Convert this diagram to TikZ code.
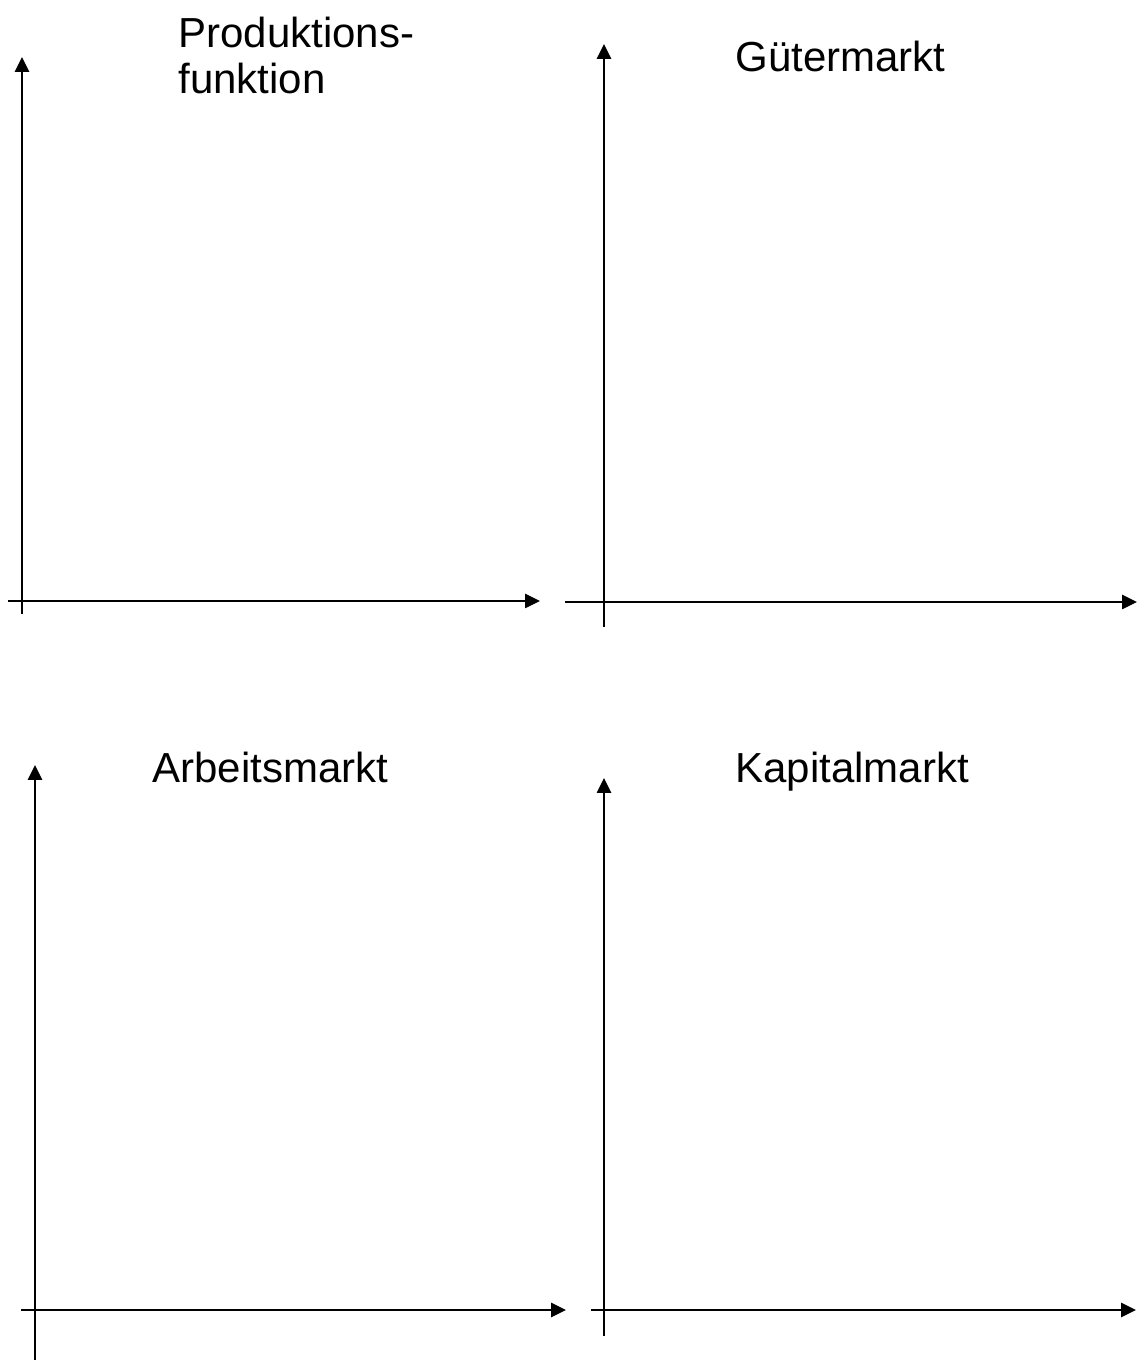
\documentclass[tikz,border=0pt]{standalone}
\usepackage{fontspec}
\setmainfont{Liberation Sans}
\usetikzlibrary{arrows.meta}

\begin{document}
\begin{tikzpicture}[x=0.5pt,y=0.5pt,>={Triangle[length=7.5pt,width=7pt]}]
\tikzset{
 t/.style={anchor=base west,inner sep=0pt,align=left,font=\fontsize{21}{23}\selectfont},
 ax/.style={->,line width=1.3pt}
}
\useasboundingbox (0,0) rectangle (1138,1360);
% titles
\node[t,anchor=west] (prod) at (178,1304) {Produktions-\\funktion};
\node[t] (gut) at (735,1288) {Gütermarkt};
\node[t] (arb) at (152,577) {Arbeitsmarkt};
\node[t] (kap) at (735,577) {Kapitalmarkt};
% axis end points: origin of vertical, tip of vertical, start of horizontal, tip of horizontal
\coordinate (v1a) at (22,746);  \coordinate (v1b) at (22,1303);
\coordinate (h1a) at (8,759);   \coordinate (h1b) at (540,759);
\coordinate (v2a) at (604,733); \coordinate (v2b) at (604,1316);
\coordinate (h2a) at (565,758); \coordinate (h2b) at (1137,758);
\coordinate (v3a) at (35,0);    \coordinate (v3b) at (35,595);
\coordinate (h3a) at (21,50);   \coordinate (h3b) at (566,50);
\coordinate (v4a) at (604,24);  \coordinate (v4b) at (604,582);
\coordinate (h4a) at (591,50);  \coordinate (h4b) at (1136,50);
\foreach \i in {1,2,3,4}{\draw[ax] (v\i a)--(v\i b); \draw[ax] (h\i a)--(h\i b);}
\end{tikzpicture}
\end{document}
